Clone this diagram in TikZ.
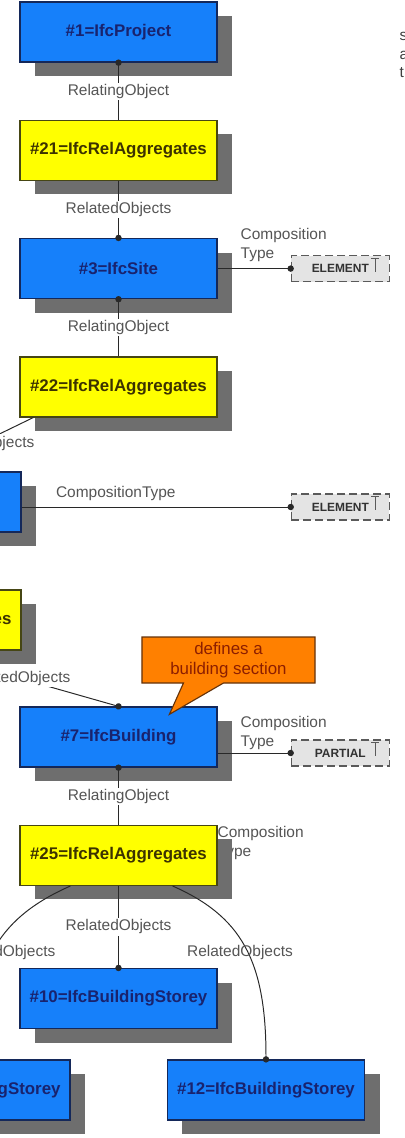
\documentclass[tikz,border=0pt]{standalone}
\usepackage{fontspec}
\setmainfont{Liberation Sans}
\usepackage{tikz}
\usetikzlibrary{arrows.meta}
\usetikzlibrary{positioning}
\usetikzlibrary{shadows}
\usetikzlibrary{shapes.callouts}

\definecolor{ifcblue}{RGB}{22,128,250}
\definecolor{bluedark}{RGB}{20,40,90}
\definecolor{bluetext}{RGB}{25,35,110}
\definecolor{relyellow}{RGB}{255,255,0}
\definecolor{yellowdark}{RGB}{70,70,20}
\definecolor{yellowtext}{RGB}{60,50,0}
\definecolor{shadowgray}{RGB}{110,110,110}
\definecolor{noteorange}{RGB}{255,128,0}
\definecolor{notedark}{RGB}{100,50,10}
\definecolor{notetext}{RGB}{140,30,0}
\definecolor{labelgray}{RGB}{85,85,85}
\definecolor{linedark}{RGB}{40,40,40}
\definecolor{enumgray}{RGB}{228,228,228}
\definecolor{enumline}{RGB}{90,90,90}
\definecolor{enumtext}{RGB}{50,50,50}

\begin{document}
\begin{tikzpicture}
  [
    x = 0.025cm, y = -0.025cm,
    node distance = 1.425cm and 1.8cm,
    box/.style = {draw, line width = 0.9pt, minimum width = 4.925cm,
                  minimum height = 1.5cm, inner sep = 1pt,
                  font = \bfseries\fontsize{12}{14}\selectfont,
                  drop shadow = {shadow xshift = 0.375cm, shadow yshift = -0.35cm,
                                 fill = shadowgray, opacity = 1}},
    ifc/.style = {box, fill = ifcblue, draw = bluedark, text = bluetext},
    rel/.style = {box, fill = relyellow, draw = yellowdark, text = yellowtext},
    cut/.style = {text width = 4.45cm, align = right, inner xsep = 0.2375cm},
    enum/.style = {draw = enumline, fill = enumgray, line width = 0.9pt,
                  dash pattern = on 0.2cm off 0.1cm,
                  minimum width = 2.45cm, minimum height = 0.65cm, inner sep = 1pt,
                  font = \bfseries\fontsize{8.5}{10}\selectfont, text = enumtext,
                  path picture = {\draw[solid, enumline, line width = 0.6pt]
                    ([xshift = -0.45cm, yshift = -0.06cm]path picture bounding box.north east) -- ++(0.2cm,0)
                    ([xshift = -0.35cm, yshift = -0.06cm]path picture bounding box.north east) -- ++(0,-0.35cm);}},
    lbl/.style = {font = \fontsize{11}{13}\selectfont, text = labelgray,
                  fill = white, inner sep = 1pt},
    note/.style = {rectangle callout, fill = noteorange, draw = notedark,
                  line width = 0.8pt, text = notetext, align = center,
                  minimum width = 4.325cm, minimum height = 1.15cm, inner sep = 1pt,
                  font = \fontsize{12}{14}\selectfont},
    conn/.style = {draw = linedark, line width = 0.7pt},
    dotend/.style = {-{Circle[length = 4.5pt]}, shorten > = -2.25pt},
    dotstart/.style = {{Circle[length = 4.5pt]}-, shorten < = -2.25pt},
  ]

  \useasboundingbox (0,0) rectangle (405,1138);
  \clip (0,0) rectangle (405,1138);

  % project, site and their aggregations
  \node[ifc] (proj) at (118.5,32) {\#1=IfcProject};
  \node[rel, below = of proj] (rel21) {\#21=IfcRelAggregates}
    edge[conn, dotend] node[lbl] {RelatingObject} (proj);
  \node[ifc, below = of rel21] (site) {\#3=IfcSite}
    edge[conn, dotstart] node[lbl] {RelatedObjects} (rel21);
  \node[rel, below = of site] (rel22) {\#22=IfcRelAggregates}
    edge[conn, dotend] node[lbl] {RelatingObject} (site);

  \node[enum, right = 1.825cm of site] (e1) {ELEMENT};
  \draw[conn, dotend] (site.east) -- (e1.west);
  \node[lbl, fill = none, align = left, anchor = south west] (ct1) at (239,263) {Composition\\Type};

  % cut off at the left edge
  \node[ifc] (bldgA) at (-77.5,502) {};
  \draw[conn, dotend] ([xshift = 0.35cm]rel22.south west) -- (bldgA.north);
  \node[lbl, anchor = east] (rl1) at (36,443) {RelatedObjects};

  \node[enum, right = 6.725cm of bldgA, yshift = -0.125cm] (e2) {ELEMENT};
  \draw[conn, dotend] ([yshift = -0.125cm]bldgA.east) -- (e2.west)
    node[lbl, fill = none, above = 0.1cm, pos = .35] {CompositionType};

  \node[rel, cut] (relB) at (-77.5,620) {IfcRelAggregates};

  % building
  \node[ifc] (bldg) at (118.5,737) {\#7=IfcBuilding};
  \draw[conn, dotend] (relB.south) -- (bldg.north);
  \node[lbl, anchor = east] (rl2) at (72,678) {RelatedObjects};

  \node[enum, right = 1.825cm of bldg, yshift = -0.4cm] (e3) {PARTIAL};
  \draw[conn, dotend] ([yshift = -0.4cm]bldg.east) -- (e3.west);
  \node[lbl, fill = none, align = left, anchor = south west] (ct3) at (239,751) {Composition\\Type};

  \node[note, callout absolute pointer = {([xshift = 3.75cm, yshift = -0.2cm]bldg.north west)},
        callout pointer width = 1cm] (sect) at (228.5,660) {defines a\\building section};

  \node[lbl, fill = none, align = left, anchor = north west] (ct25) at (216,825) {Composition\\Type};
  \node[rel, below = of bldg] (rel25) {\#25=IfcRelAggregates}
    edge[conn, dotend] node[lbl] {RelatingObject} (bldg);

  % storeys
  \node[ifc, below = 2.05cm of rel25] (st10) {\#10=IfcBuildingStorey}
    edge[conn, dotstart] node[lbl] {RelatedObjects} (rel25);
  \node[ifc, cut] (st11) at (-28.5,1090) {IfcBuildingStorey};
  \node[ifc] (st12) at (266,1090) {\#12=IfcBuildingStorey};

  \draw[conn, dotend] ([xshift = -1.2cm]rel25.south) .. controls +(-68,30) and +(0,-100) .. (st11.north);
  \draw[conn, dotend] ([xshift = 1.35cm]rel25.south) .. controls +(68,30) and +(0,-100) .. (st12.north);
  \node[lbl, fill = none, anchor = east] (rl3) at (57,952) {RelatedObjects};
  \node[lbl, fill = none] (rl4) at (240,952) {RelatedObjects};

  % text running off the right edge
  \node[lbl, fill = none, text = black!75, align = left, anchor = north west] (cutoff) at (398,31) {s\\a\\t};

\end{tikzpicture}
\end{document}
